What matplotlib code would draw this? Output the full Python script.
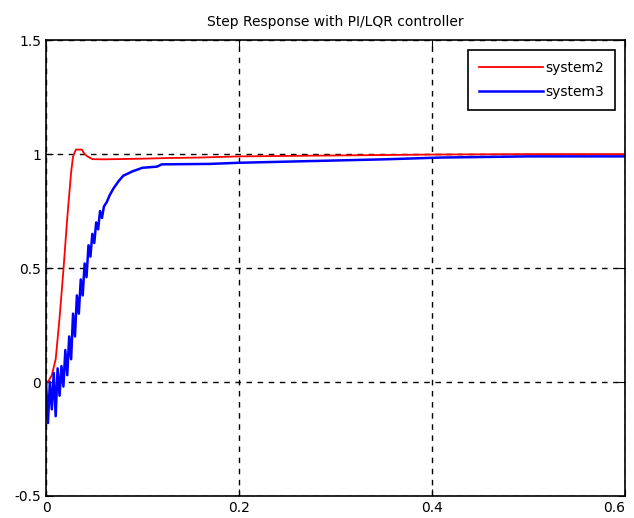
import numpy as np
import matplotlib.pyplot as plt

# -------------------------------
# DATA
# -------------------------------

t_sys2 = [0, 0.002, 0.006, 0.010, 0.014, 0.018, 0.022, 0.026, 0.028, 0.031,
          0.034, 0.037, 0.040, 0.043, 0.048, 0.060, 0.100, 0.130, 0.160, 0.200,
          0.250, 0.300, 0.400, 0.500, 0.600]
y_sys2 = [0, 0, 0.03, 0.10, 0.28, 0.49, 0.72, 0.92, 0.99, 1.02,
          1.02, 1.02, 1.00, 0.99, 0.978, 0.977, 0.98, 0.983, 0.985, 0.99,
          0.992, 0.994, 0.998, 1.0, 1.0]

t_sys3 = [0, 0.002, 0.004, 0.006, 0.008, 0.010, 0.012, 0.014, 0.016, 0.018,
          0.020, 0.022, 0.024, 0.026, 0.028, 0.030, 0.032, 0.034, 0.036, 0.038,
          0.040, 0.042, 0.044, 0.046, 0.048, 0.050, 0.052, 0.054, 0.056, 0.058,
          0.060, 0.063, 0.066, 0.070, 0.075, 0.080, 0.090, 0.100, 0.115, 0.120,
          0.170, 0.200, 0.250, 0.300, 0.350, 0.410, 0.500, 0.600]
y_sys3 = [0, -0.18, 0.0, -0.12, 0.04, -0.15, 0.06, -0.06, 0.07, -0.02,
          0.14, 0.03, 0.20, 0.10, 0.30, 0.20, 0.38, 0.30, 0.45, 0.38,
          0.52, 0.46, 0.60, 0.55, 0.65, 0.61, 0.70, 0.67, 0.75, 0.72,
          0.77, 0.79, 0.82, 0.85, 0.88, 0.905, 0.925, 0.94, 0.945, 0.955,
          0.957, 0.962, 0.967, 0.972, 0.977, 0.985, 0.99, 0.99]

x_ticks = [0, 0.2, 0.4, 0.6]
x_labels = ["0", "0.2", "0.4", "0.6"]
y_ticks = [-0.5, 0, 0.5, 1, 1.5]
y_labels = ["-0.5", "0", "0.5", "1", "1.5"]

# -------------------------------
# PLOT
# -------------------------------

fig = plt.figure(figsize=(6.34, 5.18), dpi=100)
ax = fig.add_axes([0.0726, 0.0425, 0.913, 0.880])

ax.plot(t_sys2, y_sys2, color="red", lw=1.3, label="system2")
ax.plot(t_sys3, y_sys3, color="blue", lw=1.8, label="system3")

ax.set_xlim(0, 0.6)
ax.set_ylim(-0.5, 1.5)
ax.set_xticks(x_ticks)
ax.set_yticks(y_ticks)
ax.set_xticklabels(x_labels)
ax.set_yticklabels(y_labels)
ax.tick_params(direction="in", length=5, labelsize=10, top=True, right=True)
ax.get_xticklabels()[-1].set_ha("right")
ax.grid(True, color="black", linestyle=(0, (4, 4)), lw=1)
for s in ax.spines.values():
    s.set_linewidth(1.2)

ax.set_title("Step Response with PI/LQR controller", fontsize=10, pad=10)

leg = ax.legend(loc="upper right", fontsize=10, frameon=True, fancybox=False,
                edgecolor="black", framealpha=1, borderaxespad=0.7,
                handlelength=4.6, labelspacing=0.7, borderpad=0.8,
                handletextpad=0.2)
leg.get_frame().set_linewidth(1.2)

fig.savefig("out.png", dpi=100)
